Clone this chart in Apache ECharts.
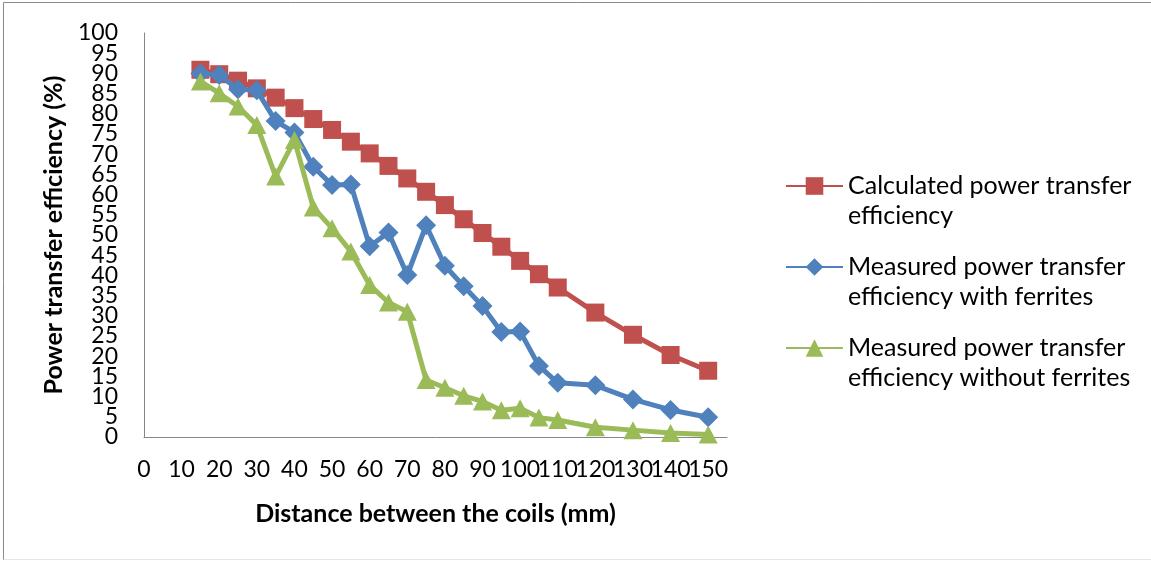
<!DOCTYPE html>
<html>
<head>
<meta charset="utf-8">
<script src="https://cdn.jsdelivr.net/npm/echarts@6/dist/echarts.min.js"></script>
<style>
  html, body { margin: 0; padding: 0; background: #fff; }
  #chart { width: 1151px; height: 561px; }
</style>
</head>
<body>
<div id="chart"></div>
<script>
// Distance between the coils (mm)
const distances = [15, 20, 25, 30, 35, 40, 45, 50, 55, 60, 65, 70, 75, 80, 85, 90, 95, 100, 105, 110, 120, 130, 140, 150];
// Calculated power transfer efficiency (%)
const calculated = [90.9, 89.8, 88.2, 86.3, 84.0, 81.4, 78.7, 76.0, 73.1, 70.2, 67.1, 64.0, 60.7, 57.4, 53.9, 50.5, 47.1, 43.6, 40.3, 37.0, 30.8, 25.3, 20.3, 16.4];
// Measured with ferrites (%)
const withFerrites = [90.0, 89.6, 86.1, 85.8, 78.2, 75.4, 66.9, 62.4, 62.5, 47.2, 50.6, 40.1, 52.4, 42.4, 37.3, 32.4, 26.0, 26.1, 17.6, 13.4, 12.8, 9.3, 6.7, 4.9];
// Measured without ferrites (%)
const withoutFerrites = [88.0, 85.1, 81.8, 77.2, 64.5, 73.5, 56.8, 51.7, 45.9, 37.6, 33.3, 31.0, 14.1, 12.2, 10.2, 8.8, 6.6, 7.1, 4.8, 4.2, 2.4, 1.7, 1.0, 0.6];

const seriesNames = [
  'Calculated power transfer efficiency',
  'Measured power transfer efficiency with ferrites',
  'Measured power transfer efficiency without ferrites'
];
const legendLines = [
  ['Calculated power transfer', 'efficiency'],
  ['Measured power transfer', 'efficiency with ferrites'],
  ['Measured power transfer', 'efficiency without ferrites']
];
const xTitle = 'Distance between the coils (mm)';
const yTitle = 'Power transfer efficiency (%)';
const xMaxLabel = 150;
// y tick labels: every 5 %, drawn as two interleaved label sets (0,10..100 and 5,15..95)
const yMin = 0, yMax = 100, yStep = 5;

const colors = ['#C0504D', '#4F81BD', '#9BBB59'];
const symbols = ['rect', 'diamond', 'triangle'];
const symbolSizes = [[18, 18], [20, 20], [19, 18]];

function pairs(ys) { return distances.map((x, i) => [x, ys[i]]); }
const seriesData = [calculated, withFerrites, withoutFerrites];

const FONT = 'Lato, "Open Sans", sans-serif';

// plot area geometry
const G = { left: 144, top: 33, width: 583, height: 404 };
const pxPerUnit = G.height / (yMax - yMin);

const yLabelStyle = { margin: 26, color: '#000', fontSize: 23, fontFamily: FONT };

const chart = echarts.init(document.getElementById('chart'), null, { renderer: 'canvas' });
chart.setOption({
  animation: false,
  backgroundColor: '#ffffff',
  grid: [
    { left: G.left, top: G.top, width: G.width, height: G.height },
    { left: G.left, top: G.top + yStep * pxPerUnit, width: G.width, height: G.height - 2 * yStep * pxPerUnit }
  ],
  xAxis: [{
    gridIndex: 0,
    type: 'value', min: 0, max: 155, interval: 10,
    axisLine: { show: true, onZero: false, lineStyle: { color: '#868686', width: 1 } },
    axisTick: { show: false },
    splitLine: { show: false },
    axisLabel: {
      margin: 21, color: '#000', fontSize: 23, fontFamily: FONT,
      formatter: v => (v > xMaxLabel ? '' : String(v))
    },
    name: xTitle, nameLocation: 'middle', nameGap: 64,
    nameTextStyle: { color: '#000', fontSize: 25, fontWeight: 'bold', fontFamily: FONT }
  }, {
    gridIndex: 1, type: 'value', min: 0, max: 155, show: false
  }],
  yAxis: [{
    gridIndex: 0,
    type: 'value', min: yMin, max: yMax, interval: 2 * yStep,
    axisLine: { show: true, lineStyle: { color: '#868686', width: 1 } },
    axisTick: { show: false },
    splitLine: { show: false },
    axisLabel: yLabelStyle,
    name: yTitle, nameLocation: 'middle', nameGap: 78,
    nameTextStyle: { color: '#000', fontSize: 25, fontWeight: 'bold', fontFamily: FONT }
  }, {
    gridIndex: 1,
    type: 'value', min: yMin + yStep, max: yMax - yStep, interval: 2 * yStep,
    axisLine: { show: false },
    axisTick: { show: false },
    splitLine: { show: false },
    axisLabel: yLabelStyle
  }],
  legend: {
    orient: 'vertical', left: 785, top: 141, padding: 0,
    itemWidth: 57, itemHeight: 22, itemGap: -9,
    data: seriesNames,
    formatter: name => {
      const l = legendLines[seriesNames.indexOf(name)];
      return ' \n' + l[0] + '\n' + l[1];
    },
    textStyle: { color: '#000', fontSize: 25, lineHeight: 30, fontFamily: FONT }
  },
  graphic: [
    { type: 'line', shape: { x1: 3.5, y1: 2.5, x2: 1151, y2: 2.5 }, style: { stroke: '#8a8a8a', lineWidth: 1 } },
    { type: 'line', shape: { x1: 3.5, y1: 2.5, x2: 3.5, y2: 560 }, style: { stroke: '#8a8a8a', lineWidth: 1 } },
    { type: 'line', shape: { x1: 3.5, y1: 559.5, x2: 1151, y2: 559.5 }, style: { stroke: '#e6e6e6', lineWidth: 1 } }
  ],
  series: seriesNames.map((name, i) => ({
    name: name,
    type: 'line',
    xAxisIndex: 0, yAxisIndex: 0,
    data: pairs(seriesData[i]),
    symbol: symbols[i],
    symbolSize: symbolSizes[i],
    showAllSymbol: true,
    lineStyle: { color: colors[i], width: 5 },
    itemStyle: { color: colors[i] },
    emphasis: { disabled: true },
    z: 2 + i
  }))
});
</script>
</body>
</html>
